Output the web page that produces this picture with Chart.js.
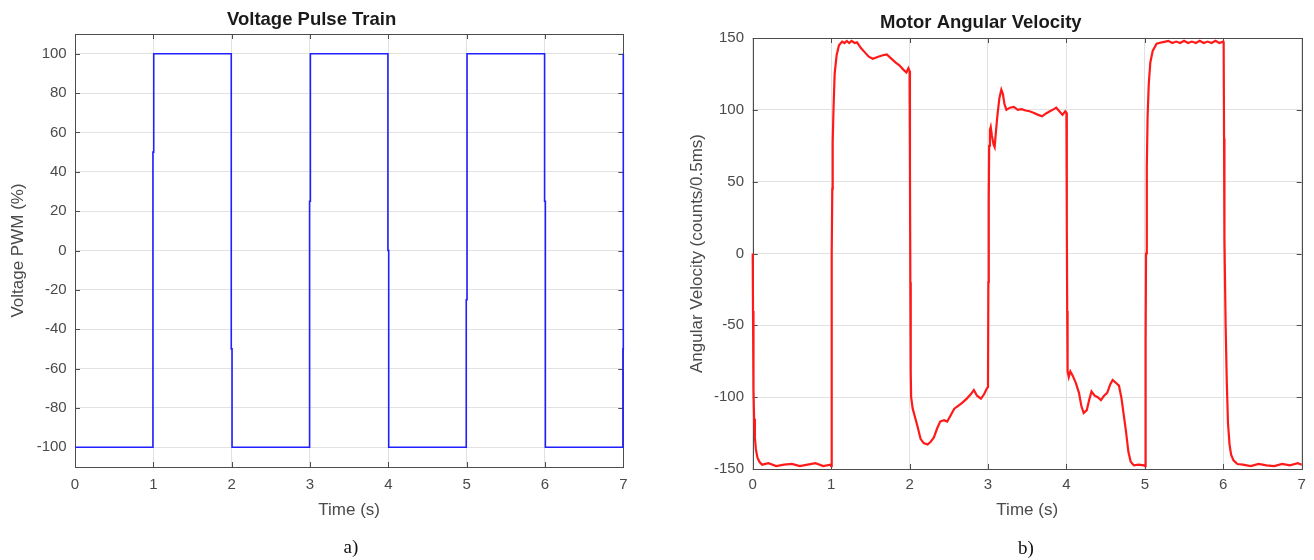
<!DOCTYPE html>
<html>
<head>
<meta charset="utf-8">
<script src="https://cdn.jsdelivr.net/npm/chart.js@4"></script>
<style>
  body { margin: 0; background: #fff; width: 1314px; height: 560px; position: relative; overflow: hidden; }
  #wrapA { position: absolute; left: 0; top: 0; width: 660px; height: 560px; }
  #wrapB { position: absolute; left: 660px; top: 0; width: 654px; height: 560px; }
  .cap { position: absolute; font-family: 'Liberation Serif', 'Times New Roman', serif; font-size: 19px; color: #111; transform: translate(-50%, -50%); }
</style>
</head>
<body>
<div id="wrapA"><canvas id="pulseChart" width="660" height="560"></canvas></div>
<div id="wrapB"><canvas id="velChart" width="654" height="560"></canvas></div>
<div class="cap" style="left:351px; top:547px;">a)</div>
<div class="cap" style="left:1026px; top:548px;">b)</div>
<script>
// ticks
const timeTicks = [0, 1, 2, 3, 4, 5, 6, 7];
const pwmTicks = [-100, -80, -60, -40, -20, 0, 20, 40, 60, 80, 100];
const velTicks = [-150, -100, -50, 0, 50, 100, 150];

// a) voltage pulse train
const pwmTime = [0, 0.995, 0.995, 1.005, 1.005, 1.995, 1.995, 2.005, 2.005,
  2.995, 2.995, 3.005, 3.005, 3.995, 3.995, 4.005, 4.005,
  4.995, 4.995, 5.005, 5.005, 5.995, 5.995, 6.005, 6.005,
  6.995, 6.995, 7.0, 7.0];
const pwmValue = [-100, -100, 50, 50, 100, 100, -50, -50, -100,
  -100, 25, 25, 100, 100, 0, 0, -100,
  -100, -25, -25, 100, 100, 25, 25, -100,
  -100, -50, -50, 100];

// b) motor angular velocity
const velTime = [0, 0.004, 0.008, 0.012, 0.018, 0.028, 0.04, 0.06, 0.085, 0.12,
  0.2, 0.3, 0.4, 0.5, 0.6, 0.7, 0.8, 0.9, 0.99,
  1.0, 1.005, 1.01, 1.015, 1.02, 1.03, 1.045, 1.07, 1.1, 1.14, 1.17, 1.2, 1.23, 1.26, 1.3, 1.33,
  1.38, 1.43, 1.48, 1.53, 1.6, 1.66, 1.71, 1.76, 1.82, 1.87, 1.92, 1.96, 1.985, 2.0,
  2.005, 2.01, 2.015, 2.02, 2.04, 2.07, 2.1, 2.14, 2.18, 2.23, 2.27, 2.31, 2.35, 2.39,
  2.44, 2.48, 2.53, 2.57, 2.62, 2.67, 2.73, 2.78, 2.82, 2.86, 2.91, 2.95, 2.985, 3.0,
  3.005, 3.01, 3.015, 3.025, 3.035, 3.05, 3.07, 3.085, 3.1, 3.12, 3.145, 3.17, 3.19,
  3.21, 3.235, 3.28, 3.33, 3.38, 3.43, 3.48, 3.53, 3.58, 3.64, 3.69, 3.74, 3.79, 3.84,
  3.87, 3.91, 3.95, 3.985, 4.0,
  4.005, 4.01, 4.015, 4.03, 4.05, 4.08, 4.12, 4.16, 4.19, 4.22, 4.26, 4.29, 4.32,
  4.36, 4.4, 4.44, 4.48, 4.52, 4.56, 4.59, 4.63, 4.67, 4.7, 4.73, 4.76, 4.79, 4.82,
  4.86, 4.92, 4.99,
  5.005, 5.01, 5.015, 5.025, 5.035, 5.05, 5.07, 5.1, 5.15, 5.22, 5.3, 5.35, 5.4, 5.45,
  5.5, 5.55, 5.6, 5.65, 5.7, 5.75, 5.8, 5.85, 5.9, 5.95, 6.0,
  6.005, 6.01, 6.015, 6.03, 6.045, 6.06, 6.08, 6.1, 6.13, 6.18, 6.25, 6.35, 6.45,
  6.55, 6.65, 6.75, 6.85, 6.95, 7.0];
const velValue = [0, -40, -72, -95, -115, -128, -136, -142, -145, -147,
  -146, -148, -147, -146.5, -148, -147, -146, -148, -147,
  -148, -60, 0, 45, 77, 100, 125, 138, 145, 147.5, 146.5, 148, 146.5, 148, 146.5, 147,
  143, 140, 137, 135.5, 137, 138, 138.5, 136, 133, 131, 128, 126, 129, 127,
  60, -20, -82, -100, -108, -114, -120, -129, -132, -133, -131, -128, -122, -117,
  -116, -117, -112, -108, -106, -104, -101, -98, -95, -99, -101, -98, -94, -93,
  -20, 38, 75, 86, 88, 82, 76, 74, 84, 96, 108, 114, 111,
  104, 100, 101.5, 102, 100, 100.5, 99.5, 99, 98, 96.5, 95.5, 97.5, 99, 100.5,
  101.5, 99, 96.5, 99, 98,
  20, -40, -82, -86, -82, -85, -90, -97, -106, -111, -109, -102, -96,
  -99, -100, -102, -99, -97, -91, -88, -90, -92, -100, -112, -124, -138, -145,
  -147.5, -147, -147.5,
  -148, -60, 0, 60, 95, 118, 133, 141, 146, 147, 148, 146.5, 147.5, 146.5,
  148, 146.5, 147.5, 146.5, 148, 146.5, 147.5, 146.5, 148, 146.5, 147.5,
  146, 80, 10, -50, -90, -118, -133, -140, -144, -146.5, -147, -148, -146.5,
  -147.5, -148, -146.5, -147.5, -146, -147];

const FONT = "'Liberation Sans', Arial, Helvetica, sans-serif";
const TICK_COLOR = '#4a4a4a';

// matlab style box with inward tick marks
const matlabBox = {
  id: 'matlabBox',
  beforeDatasetsDraw(chart) {
    const {ctx, chartArea: a, scales} = chart;
    ctx.save();
    ctx.strokeStyle = '#4d4d4d';
    ctx.lineWidth = 1;
    ctx.beginPath();
    scales.x.ticks.forEach(t => {
      const px = Math.round(scales.x.getPixelForValue(t.value)) + 0.5;
      ctx.moveTo(px, a.bottom); ctx.lineTo(px, a.bottom - 5);
      ctx.moveTo(px, a.top); ctx.lineTo(px, a.top + 5);
    });
    scales.y.ticks.forEach(t => {
      const py = Math.round(scales.y.getPixelForValue(t.value)) + 0.5;
      ctx.moveTo(a.left, py); ctx.lineTo(a.left + 5, py);
      ctx.moveTo(a.right, py); ctx.lineTo(a.right - 5, py);
    });
    ctx.stroke();
    ctx.strokeRect(Math.round(a.left) + 0.5, Math.round(a.top) + 0.5,
      Math.round(a.right - a.left), Math.round(a.bottom - a.top));
    ctx.restore();
  }
};

function toPoints(xs, ys) {
  return xs.map((x, i) => ({x: x, y: ys[i]}));
}

function axes(c) {
  return {
    x: {
      type: 'linear', min: 0, max: 7,
      afterBuildTicks: s => { s.ticks = timeTicks.map(v => ({value: v})); },
      afterFit: s => { s.height = c.xHeight; },
      grid: {color: '#e2e2e2', drawTicks: false},
      border: {display: false},
      ticks: {padding: c.xPad, maxRotation: 0, autoSkip: false, color: TICK_COLOR, font: {family: FONT, size: 15}},
      title: {display: true, text: 'Time (s)', color: TICK_COLOR, padding: {top: 0, bottom: 0}, font: {family: FONT, size: 17}}
    },
    y: {
      type: 'linear', min: c.min, max: c.max,
      afterBuildTicks: s => { s.ticks = c.ticks.map(v => ({value: v})); },
      afterFit: s => { s.width = c.yWidth; },
      grid: {color: '#e2e2e2', drawTicks: false},
      border: {display: false},
      ticks: {padding: c.yPad, color: TICK_COLOR, font: {family: FONT, size: 15}},
      title: {display: true, text: c.yTitle, color: TICK_COLOR, padding: {top: c.yTitlePad, bottom: 0}, font: {family: FONT, size: 17}}
    }
  };
}

new Chart(document.getElementById('pulseChart'), {
  type: 'scatter',
  data: {
    datasets: [{
      data: toPoints(pwmTime, pwmValue),
      showLine: true,
      borderColor: '#1f1fff',
      borderWidth: 1.6,
      pointRadius: 0,
      tension: 0,
      clip: false
    }]
  },
  options: {
    responsive: false,
    animation: false,
    layout: {padding: {left: 0, right: 36.7, top: 0, bottom: 39.1}},
    plugins: {
      legend: {display: false},
      tooltip: {enabled: false},
      title: {
        display: true,
        text: 'Voltage Pulse Train',
        color: '#1a1a1a',
        font: {family: FONT, size: 18.5, weight: 'bold'},
        padding: {top: 8.9, bottom: 2.9}
      }
    },
    scales: axes({min: -110, max: 110, ticks: pwmTicks, yTitle: 'Voltage PWM (%)',
      xHeight: 53.9, xPad: 9.3, yWidth: 75, yPad: 8.3, yTitlePad: 7.8})
  },
  plugins: [matlabBox]
});

new Chart(document.getElementById('velChart'), {
  type: 'scatter',
  data: {
    datasets: [{
      data: toPoints(velTime, velValue),
      showLine: true,
      borderColor: '#ff1a1a',
      borderWidth: 2.2,
      pointRadius: 0,
      tension: 0,
      clip: false
    }]
  },
  options: {
    responsive: false,
    animation: false,
    layout: {padding: {left: 0, right: 12.3, top: 0, bottom: 39.1}},
    plugins: {
      legend: {display: false},
      tooltip: {enabled: false},
      title: {
        display: true,
        text: 'Motor Angular Velocity',
        color: '#1a1a1a',
        font: {family: FONT, size: 18.5, weight: 'bold'},
        padding: {top: 11.7, bottom: 4.1}
      }
    },
    scales: axes({min: -150, max: 150, ticks: velTicks, yTitle: 'Angular Velocity (counts/0.5ms)',
      xHeight: 51.9, xPad: 7.3, yWidth: 92.7, yPad: 8.7, yTitlePad: 26.8})
  },
  plugins: [matlabBox]
});
</script>
</body>
</html>
